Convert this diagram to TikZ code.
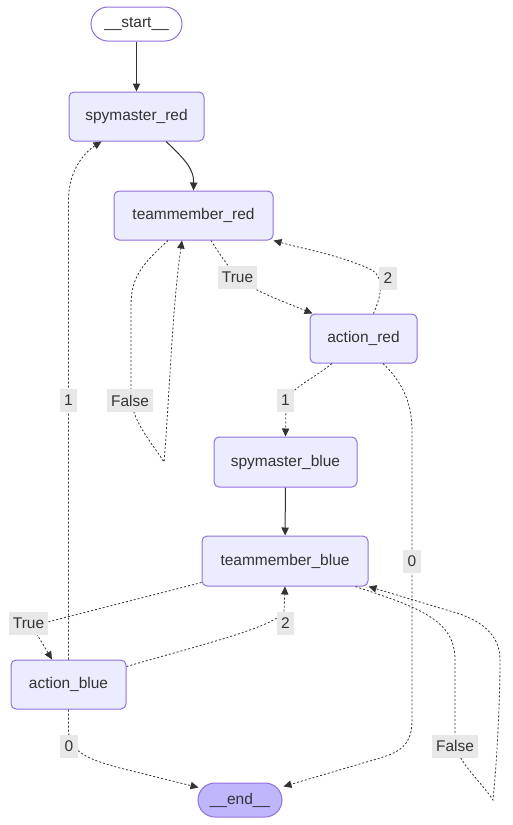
\documentclass[tikz,border=0pt]{standalone}
\usepackage{fontspec}
\setmainfont{Liberation Sans}
\usetikzlibrary{arrows.meta,calc}
\definecolor{nodefill}{HTML}{ECECFF}
\definecolor{nodeborder}{HTML}{9370DB}
\definecolor{endfill}{HTML}{BFB6FC}
\definecolor{ink}{HTML}{333333}
\definecolor{lblfill}{HTML}{E8E8E8}
\tikzset{
  box/.style={draw=nodeborder, fill=nodefill, rounded corners=3.75pt, line width=0.75pt,
    text=ink, inner sep=0pt, font=\fontsize{11.6}{13}\selectfont},
  term/.style={box, rounded corners=12.75pt},
  lbl/.style={fill=lblfill, text=ink, inner xsep=3.2pt, inner ysep=0pt, minimum height=17.25pt,
    font=\fontsize{11.6}{13}\selectfont},
  flow/.style={draw=ink, line width=0.75pt, -{Triangle[length=6pt,width=5.5pt]}},
  cond/.style={flow, line width=0.6pt, dash pattern=on 1.5pt off 1.5pt},
}
\begin{document}
\begin{tikzpicture}[x=0.75pt,y=-0.75pt]
\useasboundingbox (0,0) rectangle (512,825);
% nodes
\node[term, fill=white, minimum width=68.25pt, minimum height=25.5pt] (start) at (136.5,24) {\_\_start\_\_};
\node[box, minimum width=101.25pt, minimum height=36.75pt] (smr) at (136.5,116.5) {spymaster\_red};
\node[box, minimum width=119.25pt, minimum height=36.75pt] (tmr) at (193.5,215.5) {teammember\_red};
\node[box, minimum width=80.25pt, minimum height=36.75pt] (ar) at (363.5,338.5) {action\_red};
\node[box, minimum width=107.25pt, minimum height=37.5pt] (smb) at (285.5,462) {spymaster\_blue};
\node[box, minimum width=124.5pt, minimum height=37.5pt] (tmb) at (285,561) {teammember\_blue};
\node[box, minimum width=86.25pt, minimum height=36.75pt] (ab) at (68.5,684.5) {action\_blue};
\node[term, fill=endfill, minimum width=63pt, minimum height=25.5pt] (end) at (240,800) {\_\_end\_\_};
\coordinate (loopR) at (164,462);
\coordinate (loopB) at (493,800);
% solid edges
\draw[flow] (start) -- (smr);
\draw[flow] ($(smr.south)+(29.5,0)$) .. controls (186,160) and (194,170) .. (tmr.north);
\draw[flow] (smb) -- (tmb);
% red conditional edges
\draw[cond] ($(tmr.south)+(17.5,0)$) .. controls (222,258) and (232,272) .. (240,279)
  .. controls (255,292) and (285,302) .. ($(ar.north west)+(3,0)$);
\draw[cond] ($(ar.north)+(10,0)$) .. controls (380,298) and (386,280) .. (372,270)
  .. controls (340,255) and (300,248) .. (tmr.south east);
\draw[cond] ($(tmr.south)+(-25.5,0)$) .. controls (145,262) and (131,275) .. (131,305)
  -- (131,395) .. controls (131,420) and (150,440) .. (loopR)
  .. controls (170,390) and (172,310) .. ($(tmr.south)+(-11.5,0)$);
\draw[cond] ($(ar.south)+(-31.5,0)$) .. controls (312,380) and (286,390) .. (286,405) -- (smb.north);
\draw[cond] ($(ar.south)+(19.5,0)$) .. controls (400,380) and (412,400) .. (412,430)
  -- (412,720) .. controls (412,745) and (400,752) .. (380,758) -- ($(end.north east)+(1,4)$);
% blue conditional edges
\draw[cond] ($(tmb.south west)+(0,-4)$) -- (32,626) -- ($(ab.north)+(-16.5,0)$);
\draw[cond] ($(ab.north east)+(0,7)$) .. controls (200,645) and (272,628) .. (284,612) -- (tmb.south);
\draw[cond] (ab.north) -- (68.5,200) .. controls (68.5,170) and (85,152) .. ($(smr.south west)+(33,0)$);
\draw[cond] (ab.south) -- (68.5,730) .. controls (68.5,752) and (90,760) .. (120,768) -- ($(end.north west)+(1,5)$);
\draw[cond] ($(tmb.south east)+(-13,0)$) .. controls (420,608) and (455,620) .. (455,660)
  -- (455,740) .. controls (455,760) and (480,780) .. (loopB)
  .. controls (497,760) and (500,700) .. (500,660) .. controls (500,635) and (482,622) .. (460,614)
  -- (tmb.south east);
% edge labels
\node[lbl] (l1) at (237.5,277.5) {True};
\node[lbl] (l2) at (388,278) {2};
\node[lbl] (l3) at (130,400.5) {False};
\node[lbl] (l4) at (285.5,400.5) {1};
\node[lbl] (l5) at (412,561.5) {0};
\node[lbl] (l6) at (28.5,623) {True};
\node[lbl] (l7) at (285.5,623) {2};
\node[lbl] (l8) at (68.5,400.5) {1};
\node[lbl] (l9) at (69,746) {0};
\node[lbl] (l10) at (455,746) {False};
\end{tikzpicture}
\end{document}
